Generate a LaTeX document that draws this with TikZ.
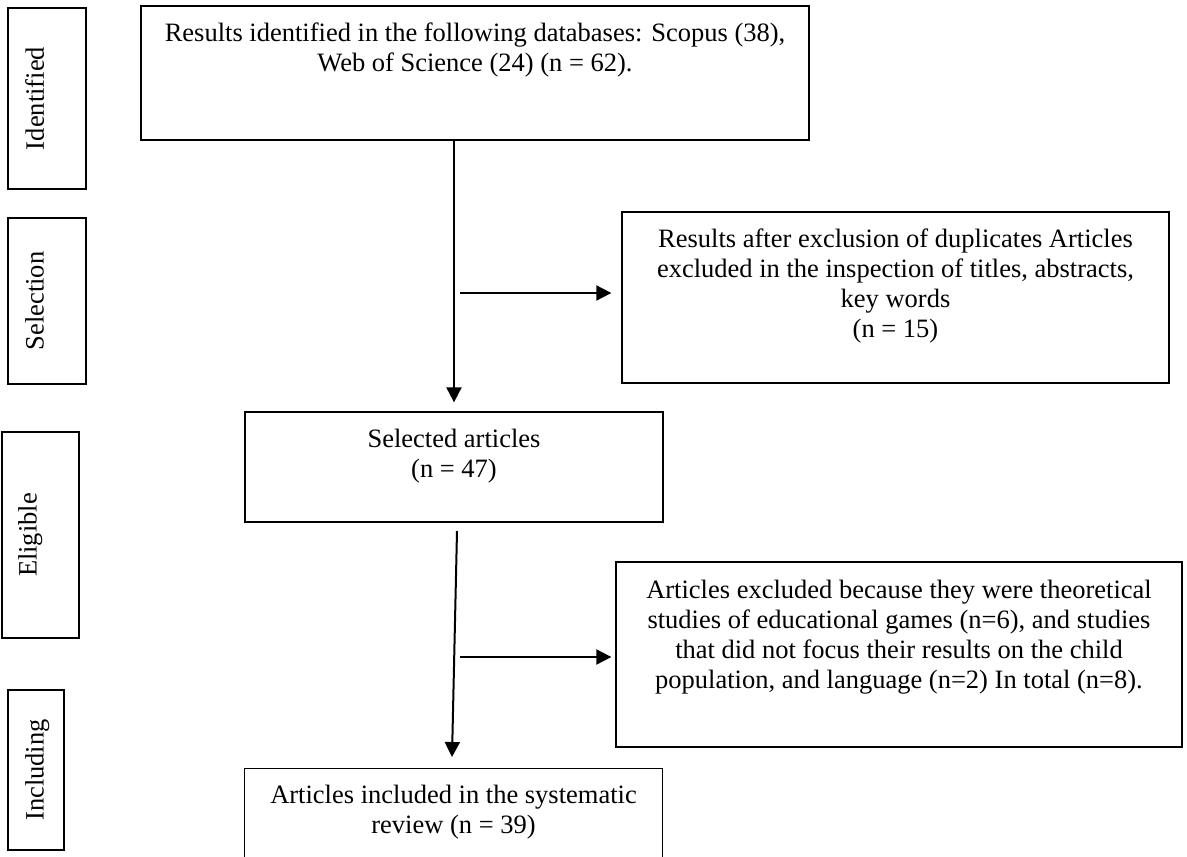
\documentclass[tikz,border=0pt]{standalone}
\usepackage{fontspec}
\setmainfont{Liberation Serif}
\usetikzlibrary{arrows.meta}
\begin{document}
\begin{tikzpicture}[x=1pt,y=-1pt,
  boxline/.style={draw=black, line width=1.3pt},
  mainbox/.style={boxline, inner sep=0pt},
  openbox/.style={inner sep=0pt},
  txt/.style={align=center, inner sep=0pt, font=\fontsize{26.5}{30}\selectfont},
  lbl/.style={draw=none, inner sep=0pt, rotate=90, anchor=north, font=\fontsize{26.5}{30}\selectfont},
  arr/.style={line width=2pt, -{Triangle[length=15pt,width=15pt]}},
  plain/.style={line width=2pt}]
\useasboundingbox (0,0) rectangle (1187,857);

% stage labels
\node[mainbox, minimum width=78pt, minimum height=181pt] (sid) at (47,98.5) {};
\node[lbl] (tid) at (25,98.5) {Identified};
\node[mainbox, minimum width=78pt, minimum height=166pt] (ssel) at (47,301) {};
\node[lbl] (tsel) at (25,301) {Selection};
\node[mainbox, minimum width=77pt, minimum height=206pt] (selig) at (40.5,535) {};
\node[lbl] (telig) at (18,535) {Eligible};
\node[mainbox, minimum width=56pt, minimum height=160pt] (sinc) at (36,770) {};
\node[lbl] (tinc) at (25,770) {Including};

% main boxes
\node[mainbox, minimum width=668pt, minimum height=134pt] (b1) at (475,73) {};
\node[txt, anchor=north] (t1) at (475,20) {\strut Results identified in the following databases: Scopus (38),\\ Web of Science (24) (n = 62).};

\node[mainbox, minimum width=547pt, minimum height=171pt] (b2) at (895.5,297.5) {};
\node[txt, anchor=north] (t2) at (895.5,226) {\strut Results after exclusion of duplicates Articles\\ excluded in the inspection of titles, abstracts,\\ key words\\ (n = 15)};

\node[mainbox, minimum width=418pt, minimum height=110pt] (b3) at (454,467) {};
\node[txt, anchor=north] (t3) at (454,426) {\strut Selected articles\\ (n = 47)};

\node[mainbox, minimum width=566pt, minimum height=185pt] (b4) at (899,654.5) {};
\node[txt, anchor=north] (t4) at (899,577) {\strut Articles excluded because they were theoretical\\ studies of educational games (n=6), and studies\\ that did not focus their results on the child\\ population, and language (n=2) In total (n=8).};

\node[openbox, minimum width=417pt, minimum height=88pt] (b5) at (453.5,813) {};
\draw[boxline] (b5.south west) -- (b5.north west) -- (b5.north east) -- (b5.south east);
\node[txt, anchor=north] (t5) at (453.5,782) {\strut Articles included in the systematic\\ review (n = 39)};

% connectors
\coordinate (v1s) at (454,140);
\coordinate (h1s) at (460,293);
\coordinate (v2s) at (457,531);
\coordinate (v2e) at (452,757);
\coordinate (h2s) at (460,657);

\draw[arr, shorten >=9pt] (v1s) -- (v1s |- b3.north);
\draw[arr, shorten >=10pt] (h1s) -- (h1s -| b2.west);
\draw[arr] (v2s) -- (v2e);
\draw[arr, shorten >=4pt] (h2s) -- (h2s -| b4.west);
\end{tikzpicture}
\end{document}
